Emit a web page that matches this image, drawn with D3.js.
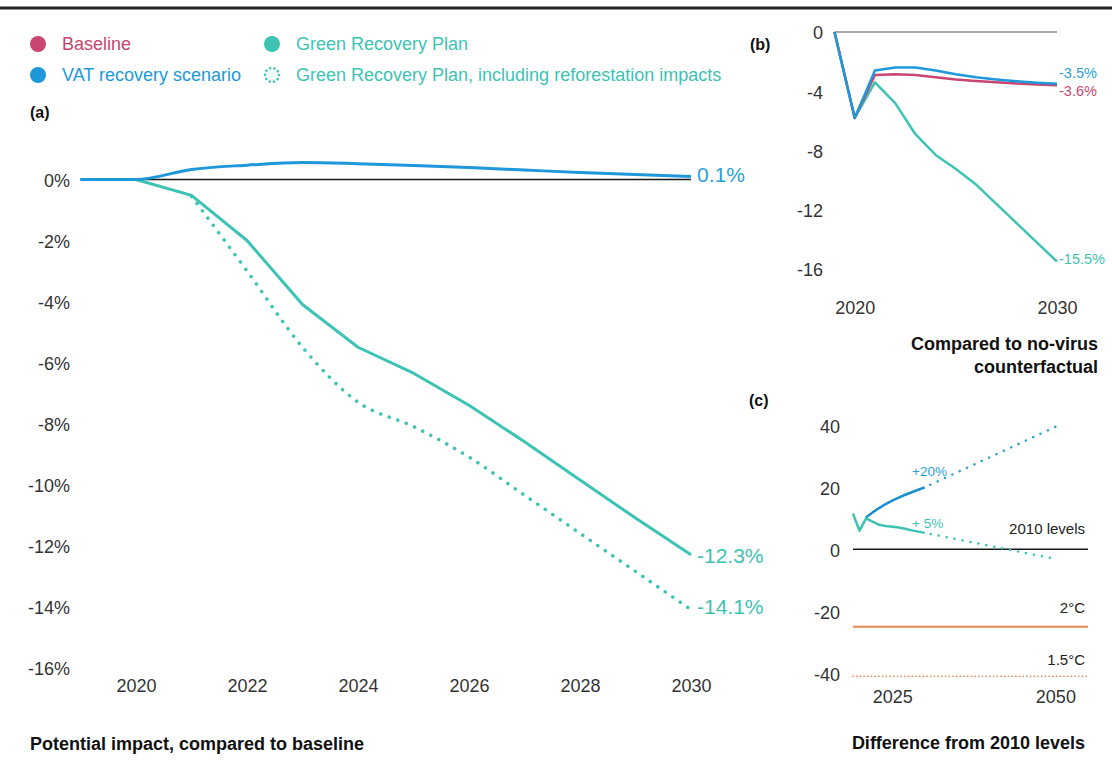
<!DOCTYPE html>
<html>
<head>
<meta charset="utf-8">
<script src="https://cdnjs.cloudflare.com/ajax/libs/d3/7.8.5/d3.min.js"></script>
<style>
  body { margin: 0; background: #fff; }
  svg { display: block; font-family: "Liberation Sans", Arial, sans-serif; }
</style>
</head>
<body>
<svg id="chart" width="1112" height="769"></svg>
<script>
// panel (a): impact vs baseline, %
var yearsA = [2019, 2020, 2021, 2022, 2023, 2024, 2025, 2026, 2027, 2028, 2029, 2030];
var vatA = [0, 0, 0.33, 0.47, 0.56, 0.52, 0.46, 0.39, 0.31, 0.23, 0.16, 0.1];
var greenA = [0, 0, -0.52, -2.0, -4.1, -5.5, -6.35, -7.4, -8.6, -9.85, -11.1, -12.3];
var yearsAdot = [2021, 2022, 2023, 2024, 2025, 2026, 2027, 2028, 2029, 2030];
var greenForestA = [-0.55, -3.0, -5.5, -7.3, -8.1, -9.1, -10.35, -11.6, -12.85, -14.1];
var ticksA = [0, -2, -4, -6, -8, -10, -12, -14, -16];
var xTicksA = [2020, 2022, 2024, 2026, 2028, 2030];

// panel (b): vs no-virus counterfactual
var yearsB = [2019, 2020, 2021, 2022, 2023, 2024, 2025, 2026, 2027, 2028, 2029, 2030];
var baseB = [0, -5.8, -2.9, -2.85, -2.9, -3.05, -3.2, -3.3, -3.4, -3.48, -3.55, -3.6];
var vatB = [0, -5.8, -2.6, -2.4, -2.4, -2.6, -2.85, -3.05, -3.2, -3.32, -3.42, -3.5];
var greenB = [0, -5.8, -3.4, -4.8, -6.9, -8.3, -9.25, -10.3, -11.6, -12.9, -14.2, -15.5];
var ticksB = [0, -4, -8, -12, -16];
var xTicksB = [2020, 2030];

// panel (c): difference from 2010 levels
var yearsCblue = [2021, 2022, 2023, 2024, 2025, 2026, 2027, 2028, 2029, 2030];
var vatC = [10.3, 11.9, 13.3, 14.6, 15.7, 16.7, 17.6, 18.4, 19.2, 20];
var yearsCgreen = [2019, 2020, 2021, 2022, 2023, 2024, 2025, 2026, 2027, 2028, 2029, 2030];
var greenC = [11.5, 6.0, 10.0, 8.9, 7.9, 7.5, 7.3, 7.0, 6.6, 6.1, 5.7, 5.3];
var yearsCproj = [2030, 2050];
var vatProjC = [20, 39.5];
var greenProjC = [5.3, -3.1];
var levelsC = [0, -25, -41];
var ticksC = [40, 20, 0, -20, -40];
var xTicksC = [2025, 2050];

var pink = "#c8466f", blue = "#1e98da", teal = "#3dc3b3", orange = "#e8844f", ink = "#333";

var svg = d3.select("#chart");

svg.append("line").attr("x1", 0).attr("x2", 1112).attr("y1", 8).attr("y2", 8)
   .attr("stroke", "#222").attr("stroke-width", 3);

// legend
var legend = [
  {label: "Baseline", color: pink, x: 38, y: 44, dotted: false},
  {label: "VAT recovery scenario", color: blue, x: 38, y: 75, dotted: false},
  {label: "Green Recovery Plan", color: teal, x: 272, y: 44, dotted: false},
  {label: "Green Recovery Plan, including reforestation impacts", color: teal, x: 272, y: 75, dotted: true}
];
var lg = svg.append("g").selectAll("g").data(legend).enter().append("g")
  .attr("transform", function(d) { return "translate(" + d.x + "," + d.y + ")"; });
lg.append("circle").attr("r", function(d) { return d.dotted ? 7 : 8; })
  .attr("fill", function(d) { return d.dotted ? "#eef9f8" : d.color; })
  .attr("stroke", function(d) { return d.dotted ? d.color : "none"; })
  .attr("stroke-width", 2.5).attr("stroke-linecap", "round")
  .attr("stroke-dasharray", function(d) { return d.dotted ? "0.1 4.3" : null; });
lg.append("text").attr("x", 24).attr("dy", "0.35em").attr("font-size", 18)
  .attr("fill", function(d) { return d.color; }).text(function(d) { return d.label; });

function label(x, y, t, opts) {
  opts = opts || {};
  svg.append("text").attr("x", x).attr("y", y).text(t)
    .attr("font-size", opts.size || 16)
    .attr("font-weight", opts.bold ? "bold" : null)
    .attr("fill", opts.color || "#111")
    .attr("text-anchor", opts.anchor || "start")
    .attr("dy", "0.35em");
}
label(30, 112, "(a)", {bold: true});
label(750, 44, "(b)", {bold: true});
label(749, 400, "(c)", {bold: true});

function styleAxis(g, size) {
  g.select(".domain").remove();
  g.selectAll("text").attr("font-size", size).attr("fill", ink)
    .attr("font-family", "Liberation Sans, Arial, sans-serif");
}
var plain = function(d) { return String(d); };

// ---------- panel (a)
var xA = d3.scaleLinear().domain([2019, 2030]).range([80.5, 691]);
var yA = d3.scaleLinear().domain([0, -16]).range([179.5, 667.5]);

svg.append("g").attr("transform", "translate(70,1)")
  .call(d3.axisLeft(yA).tickValues(ticksA).tickSize(0).tickPadding(0).tickFormat(function(d) { return d + "%"; }))
  .call(styleAxis, 18);
svg.append("g").attr("transform", "translate(0,668)")
  .call(d3.axisBottom(xA).tickValues(xTicksA).tickSize(0).tickPadding(11).tickFormat(plain))
  .call(styleAxis, 18);

svg.append("line").attr("x1", xA(2019)).attr("x2", xA(2030)).attr("y1", yA(0)).attr("y2", yA(0))
  .attr("stroke", "#1a1a1a").attr("stroke-width", 1.3);

var lineA = d3.line().x(function(d) { return xA(d[0]); }).y(function(d) { return yA(d[1]); });
var smoothA = d3.line().x(function(d) { return xA(d[0]); }).y(function(d) { return yA(d[1]); })
  .curve(d3.curveMonotoneX);

svg.append("path").datum(d3.zip(yearsAdot, greenForestA)).attr("d", smoothA)
  .attr("fill", "none").attr("stroke", teal).attr("stroke-width", 3.5)
  .attr("stroke-linecap", "round").attr("stroke-dasharray", "0.1 9");
svg.append("path").datum(d3.zip(yearsA, greenA)).attr("d", lineA)
  .attr("fill", "none").attr("stroke", teal).attr("stroke-width", 3).attr("stroke-linejoin", "round");
svg.append("path").datum(d3.zip(yearsA, vatA)).attr("d", smoothA)
  .attr("fill", "none").attr("stroke", blue).attr("stroke-width", 3);

label(xA(2030) + 6, yA(vatA[vatA.length - 1]) - 2, "0.1%", {size: 21, color: "#2a9fd8"});
label(xA(2030) + 6, yA(-12.3) + 1, "-12.3%", {size: 21, color: teal});
label(xA(2030) + 6, yA(-14.1) - 3, "-14.1%", {size: 21, color: teal});
label(30, 744, "Potential impact, compared to baseline", {bold: true, size: 18});

// ---------- panel (b)
var xB = d3.scaleLinear().domain([2019, 2030]).range([834.5, 1057]);
var yB = d3.scaleLinear().domain([0, -16]).range([32, 269]);

svg.append("g").attr("transform", "translate(823,1)")
  .call(d3.axisLeft(yB).tickValues(ticksB).tickSize(0).tickPadding(0).tickFormat(plain))
  .call(styleAxis, 18);
svg.append("g").attr("transform", "translate(0,290)")
  .call(d3.axisBottom(xB).tickValues(xTicksB).tickSize(0).tickPadding(11).tickFormat(plain))
  .call(styleAxis, 18);

svg.append("line").attr("x1", xB(2019)).attr("x2", xB(2030)).attr("y1", yB(0)).attr("y2", yB(0))
  .attr("stroke", "#888").attr("stroke-width", 1.3);

var lineB = d3.line().x(function(d) { return xB(d[0]); }).y(function(d) { return yB(d[1]); });
[[greenB, teal], [baseB, pink], [vatB, blue]].forEach(function(s) {
  svg.append("path").datum(d3.zip(yearsB, s[0])).attr("d", lineB)
    .attr("fill", "none").attr("stroke", s[1]).attr("stroke-width", 2.5)
    .attr("stroke-linejoin", "round");
});
label(xB(2030) + 2, yB(-3.5) - 11, "-3.5%", {size: 14.5, color: "#2a9fd8"});
label(xB(2030) + 2, yB(-3.6) + 6, "-3.6%", {size: 14.5, color: pink});
label(xB(2030) + 2, yB(-15.5) - 3, "-15.5%", {size: 14.5, color: teal});
label(1098, 344, "Compared to no-virus", {bold: true, size: 18, anchor: "end"});
label(1098, 367, "counterfactual", {bold: true, size: 18, anchor: "end"});

// ---------- panel (c)
var xC = d3.scaleLinear().domain([2019, 2055]).range([853, 1088]);
var yC = d3.scaleLinear().domain([40, -40]).range([425.3, 673.3]);

svg.append("g").attr("transform", "translate(840,1)")
  .call(d3.axisLeft(yC).tickValues(ticksC).tickSize(0).tickPadding(0).tickFormat(plain))
  .call(styleAxis, 18);
svg.append("g").attr("transform", "translate(0,683)")
  .call(d3.axisBottom(xC).tickValues(xTicksC).tickSize(0).tickPadding(7).tickFormat(plain))
  .call(styleAxis, 18);

svg.append("line").attr("x1", xC(2019)).attr("x2", xC(2055)).attr("y1", yC(levelsC[0])).attr("y2", yC(levelsC[0]))
  .attr("stroke", "#1a1a1a").attr("stroke-width", 1.5);
svg.append("line").attr("x1", xC(2019)).attr("x2", xC(2055)).attr("y1", yC(levelsC[1])).attr("y2", yC(levelsC[1]))
  .attr("stroke", orange).attr("stroke-width", 2);
svg.append("line").attr("x1", xC(2019)).attr("x2", xC(2055)).attr("y1", yC(levelsC[2])).attr("y2", yC(levelsC[2]))
  .attr("stroke", orange).attr("stroke-width", 1.6).attr("stroke-linecap", "round").attr("stroke-dasharray", "0.1 3.6");

var lineC = d3.line().x(function(d) { return xC(d[0]); }).y(function(d) { return yC(d[1]); });
svg.append("path").datum(d3.zip(yearsCproj, greenProjC)).attr("d", lineC)
  .attr("fill", "none").attr("stroke", teal).attr("stroke-width", 2.5)
  .attr("stroke-linecap", "round").attr("stroke-dasharray", "0.1 8").attr("stroke-dashoffset", -6);
svg.append("path").datum(d3.zip(yearsCproj, vatProjC)).attr("d", lineC)
  .attr("fill", "none").attr("stroke", "#2aa3cf").attr("stroke-width", 2.5)
  .attr("stroke-linecap", "round").attr("stroke-dasharray", "0.1 8").attr("stroke-dashoffset", -6);
svg.append("path").datum(d3.zip(yearsCgreen, greenC)).attr("d", lineC)
  .attr("fill", "none").attr("stroke", teal).attr("stroke-width", 2.5).attr("stroke-linejoin", "round");
svg.append("path").datum(d3.zip(yearsCblue, vatC)).attr("d", lineC)
  .attr("fill", "none").attr("stroke", "#1a8fd0").attr("stroke-width", 2.5).attr("stroke-linejoin", "round");

label(912, 471, "+20%", {size: 13.5, color: "#2a9fd8"});
label(912, 523, "+ 5%", {size: 13.5, color: teal});
label(1085, 529, "2010 levels", {size: 15, anchor: "end", color: "#222"});
label(1085, 608, "2°C", {size: 15, anchor: "end", color: "#222"});
label(1085, 660, "1.5°C", {size: 15, anchor: "end", color: "#222"});
label(1085, 743, "Difference from 2010 levels", {bold: true, size: 18, anchor: "end"});
</script>
</body>
</html>
